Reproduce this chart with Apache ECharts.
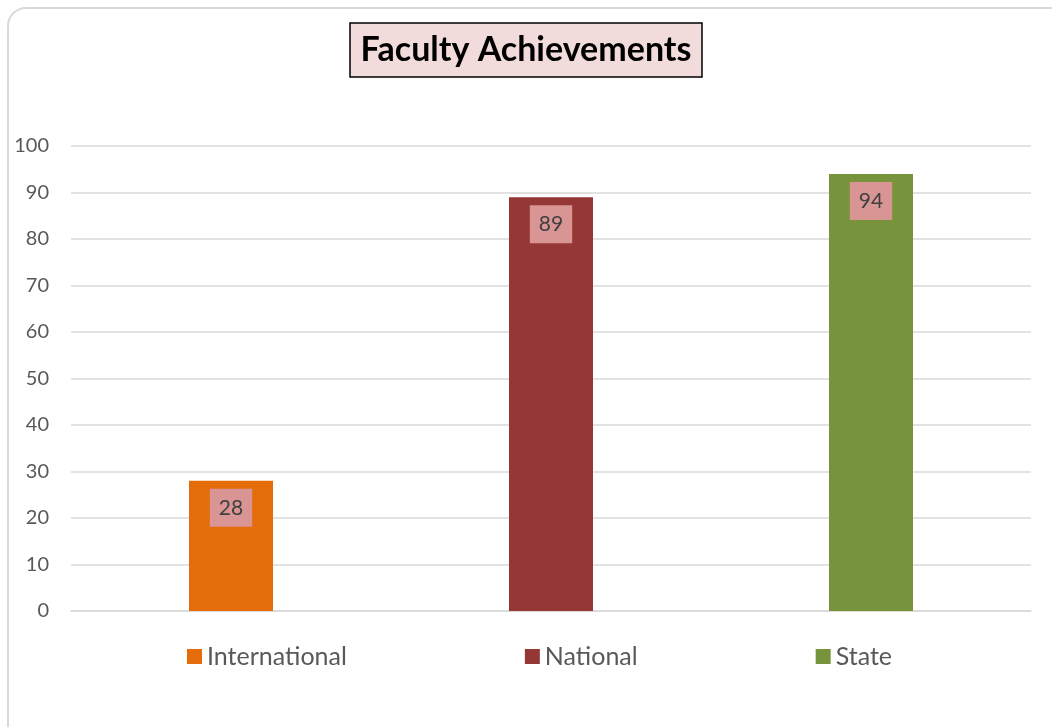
<!DOCTYPE html>
<html>
<head>
<meta charset="utf-8">
<script src="https://cdn.jsdelivr.net/npm/echarts@6/dist/echarts.min.js"></script>
<style>
  html, body { margin: 0; padding: 0; background: #fff; }
  #chart { width: 1052px; height: 727px; }
</style>
</head>
<body>
<div id="chart"></div>
<script>
const categories = ['International', 'National', 'State']
const values = [28, 89, 94]
const colors = ['#E46C0A', '#953735', '#77933C']
const yTicks = { min: 0, max: 100, interval: 10 }

const myChart = echarts.init(document.getElementById('chart'))

// one series per category so the legend can show each one
const series = categories.map((name, i) => ({
  name: name,
  type: 'bar',
  data: categories.map((c, j) => (j === i ? values[i] : '-')),
  barWidth: 84,
  barGap: '-100%',
  itemStyle: { color: colors[i] },
  label: {
    show: true,
    position: 'insideTop',
    distance: 8,
    backgroundColor: '#D99594',
    padding: [9, 9],
    color: '#404040',
    fontSize: 21,
    lineHeight: 20,
    fontFamily: 'Lato'
  }
}))

const option = {
  animation: false,
  textStyle: { fontFamily: 'Lato' },
  graphic: [
    {
      type: 'rect',
      shape: { x: 8, y: 8, width: 1070, height: 740, r: 18 },
      style: { fill: 'none', stroke: '#D9D9D9', lineWidth: 2 },
      silent: true
    }
  ],
  title: {
    text: 'Faculty Achievements',
    left: 'center',
    top: 23,
    backgroundColor: '#F2DCDB',
    borderColor: '#000',
    borderWidth: 1.5,
    padding: [9, 11, 9, 11],
    textStyle: {
      fontFamily: 'Lato',
      fontWeight: 'bold',
      fontSize: 34,
      lineHeight: 36,
      color: '#000'
    }
  },
  legend: {
    data: categories,
    left: 182,
    top: 639,
    itemWidth: 15,
    itemHeight: 15,
    itemGap: 178,
    icon: 'rect',
    textStyle: { color: '#595959', fontSize: 25, fontFamily: 'Lato' }
  },
  grid: {
    left: 71,
    right: 21,
    top: 146,
    bottom: 116
  },
  xAxis: {
    type: 'category',
    data: categories,
    axisLine: { lineStyle: { color: '#D9D9D9', width: 1.5 } },
    axisTick: { show: false },
    axisLabel: { show: false }
  },
  yAxis: {
    type: 'value',
    min: yTicks.min,
    max: yTicks.max,
    interval: yTicks.interval,
    axisLine: { show: false },
    axisTick: { show: false },
    axisLabel: { color: '#595959', fontSize: 20, margin: 22, fontFamily: 'Lato' },
    splitLine: { lineStyle: { color: '#D9D9D9', width: 1.5 } }
  },
  series: series
}

myChart.setOption(option)
</script>
</body>
</html>
